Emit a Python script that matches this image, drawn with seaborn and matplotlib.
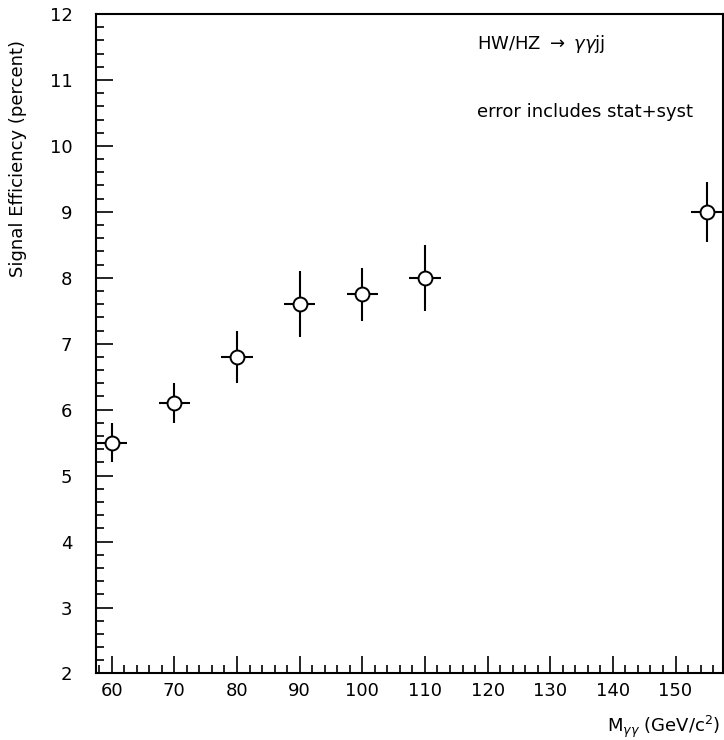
import matplotlib
matplotlib.use("Agg")
import matplotlib.pyplot as plt
import seaborn as sns
import pandas as pd
from matplotlib.ticker import MultipleLocator

# Higgs mass points (GeV/c^2) and signal efficiency (percent)
mass = [60, 70, 80, 90, 100, 110, 155]
efficiency = [5.5, 6.1, 6.8, 7.6, 7.75, 8.0, 9.0]
eff_err = [0.3, 0.3, 0.4, 0.5, 0.4, 0.5, 0.45]
mass_halfwidth = [2.5, 2.5, 2.5, 2.5, 2.5, 2.5, 2.5]

df = pd.DataFrame({"mass": mass, "eff": efficiency,
                   "eff_err": eff_err, "mass_hw": mass_halfwidth})

sns.set_theme(style="white")
plt.rcParams["font.family"] = ["DejaVu Sans"]
plt.rcParams["text.color"] = "black"
plt.rcParams["axes.labelcolor"] = "black"
plt.rcParams["xtick.color"] = "black"
plt.rcParams["ytick.color"] = "black"

FS = 13

fig = plt.figure(figsize=(7.24, 7.40), dpi=100)
ax = fig.add_axes([0.1326, 0.0899, 0.8654, 0.8912])

ax.errorbar(df["mass"], df["eff"], yerr=df["eff_err"], xerr=df["mass_hw"],
            fmt="none", ecolor="black", elinewidth=1.5, capsize=0, zorder=2)
sns.scatterplot(data=df, x="mass", y="eff", ax=ax, marker="o", s=100,
                facecolor="white", edgecolor="black", linewidth=1.4,
                zorder=3, clip_on=False)

ax.set_xlim(57.5, 157.5)
ax.set_ylim(2, 12)
ax.xaxis.set_major_locator(MultipleLocator(10))
ax.xaxis.set_minor_locator(MultipleLocator(2))
ax.yaxis.set_major_locator(MultipleLocator(1))
ax.yaxis.set_minor_locator(MultipleLocator(0.2))

ax.tick_params(axis="both", which="both", direction="in", color="black",
               top=False, right=False, bottom=True, left=True)
ax.tick_params(axis="both", which="major", length=12, width=1.2, labelsize=FS)
ax.tick_params(axis="both", which="minor", length=6, width=1.2)
ax.tick_params(axis="y", which="major", pad=17)
ax.tick_params(axis="x", which="major", pad=6)

for side in ["left", "bottom", "top", "right"]:
    ax.spines[side].set_visible(True)
    ax.spines[side].set_color("black")
    ax.spines[side].set_linewidth(1.5)

ax.set_ylabel("Signal Efficiency (percent)", fontsize=FS, loc="top")
ax.yaxis.set_label_coords(-0.11, 0.96)
ax.set_xlabel(r"M$_{\gamma\gamma}$ (GeV/c$^2$)", fontsize=FS, loc="right")
ax.xaxis.set_label_coords(0.996, -0.061)

ax.text(0.608, 0.954, r"HW/HZ $\rightarrow$ $\gamma\gamma$jj",
        transform=ax.transAxes, fontsize=FS, va="center", ha="left")
ax.text(0.608, 0.851, "error includes stat+syst",
        transform=ax.transAxes, fontsize=FS, va="center", ha="left")

ax.grid(False)
fig.savefig("out.png", dpi=100)
